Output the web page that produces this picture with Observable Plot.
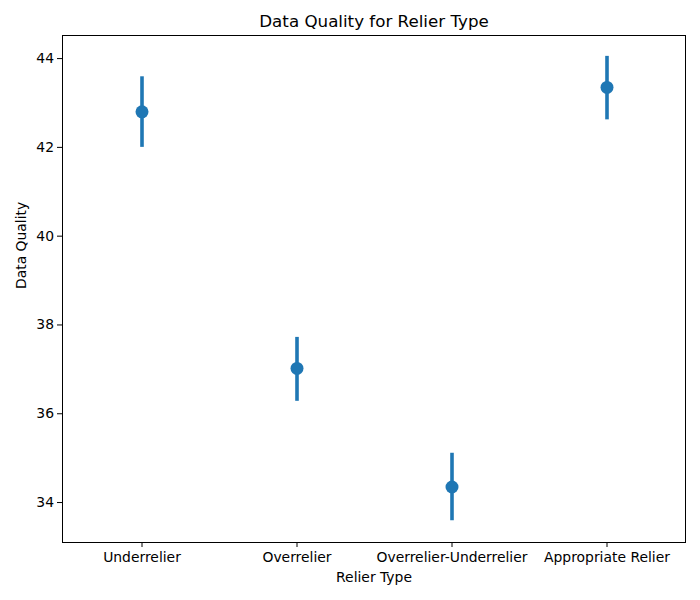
<!DOCTYPE html>
<html>
<head>
<meta charset="utf-8">
<script src="https://cdn.jsdelivr.net/npm/d3@7"></script>
<script src="https://cdn.jsdelivr.net/npm/@observablehq/plot@0.6"></script>
<style>
  html, body { margin: 0; padding: 0; background: white; }
</style>
</head>
<body>
<div id="chart"></div>
<script>
const categories = ["Underrelier", "Overrelier", "Overrelier-Underrelier", "Appropriate Relier"];
const means = [42.80, 37.02, 34.35, 43.35];
const lows = [42.00, 36.28, 33.59, 42.62];
const highs = [43.59, 37.72, 35.11, 44.05];
const yTicks = [34, 36, 38, 40, 42, 44];
const titleText = "Data Quality for Relier Type";
const xLabel = "Relier Type";
const yLabel = "Data Quality";

const data = categories.map((c, i) => ({cat: c, mean: means[i], lo: lows[i], hi: highs[i]}));
const color = "#1f77b4";

const chart = Plot.plot({
  width: 700,
  height: 600,
  marginTop: 35,
  marginBottom: 58,
  marginLeft: 62,
  marginRight: 15,
  style: {fontFamily: "DejaVu Sans", fontSize: "13.9px", color: "black", background: "white"},
  x: {type: "band", domain: categories, padding: 0, label: null},
  y: {domain: [33.1, 44.52], label: null},
  marks: [
    Plot.axisX({tickSize: 5, tickPadding: 5, label: null}),
    Plot.axisY({ticks: yTicks, tickSize: 5, tickPadding: 3.5, label: null}),
    Plot.ruleX(data, {x: "cat", y1: "lo", y2: "hi", stroke: color, strokeWidth: 3.6}),
    Plot.dot(data, {x: "cat", y: "mean", r: 6.5, fill: color, stroke: null}),
    Plot.frame({stroke: "black", strokeWidth: 1}),
    Plot.text([titleText], {text: d => d, frameAnchor: "top", lineAnchor: "middle", dy: -14, fontSize: 16.7}),
    Plot.text([xLabel], {text: d => d, frameAnchor: "bottom", lineAnchor: "middle", dy: 35}),
    Plot.text([yLabel], {text: d => d, frameAnchor: "left", lineAnchor: "middle", dx: -41, rotate: -90})
  ]
});
document.getElementById("chart").appendChild(chart);
</script>
</body>
</html>
